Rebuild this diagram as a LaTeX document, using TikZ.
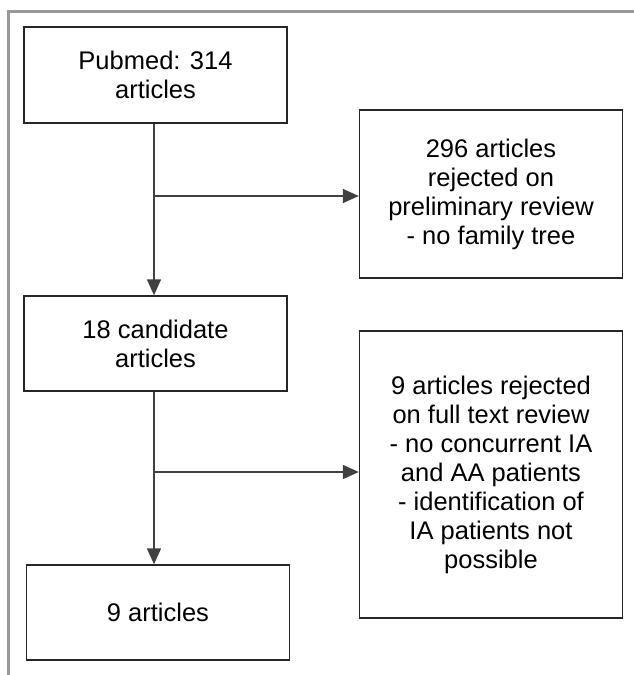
\documentclass[tikz,border=0pt]{standalone}
\usepackage{fontspec}
\setmainfont{Liberation Sans}
\usepackage{tikz}
\usetikzlibrary{arrows.meta}
\usetikzlibrary{shapes, arrows, positioning}

\begin{document}
\begin{tikzpicture}[x=1pt, y=1pt,
    stepbox/.style={rectangle, draw=black!85, line width=1.4pt, align=center, inner sep=0pt, minimum width=263pt,
      font=\fontsize{25.5}{29}\selectfont},
    flow/.style={-{Triangle[length=16pt, width=14pt]}, line width=1.4pt, draw=black!75}]
    % Frame and page size
    \useasboundingbox (0,0) rectangle (634,-675);
    \draw[gray!80, line width=3pt] (8.5,-675) -- (8.5,-11) -- (634,-11);

    % Define nodes
    \node[stepbox, minimum height=96pt] (pubmed) at (155.5,-75) {Pubmed: 314\\articles};
    \node[stepbox, minimum height=168pt] (prelim) at (491,-194) {296 articles\\rejected on\\preliminary review\\- no family tree};
    \node[stepbox, minimum height=95pt] (cand) at (155.5,-343.5) {18 candidate\\articles};
    \node[stepbox, minimum height=287pt] (fulltext) at (491,-474.5) {9 articles rejected\\on full text review\\- no concurrent IA\\and AA patients\\- identification of\\IA patients not\\possible};
    \node[stepbox, minimum height=95pt] (final) at (158,-612.5) {9 articles};

    % Branch points
    \coordinate (split1) at (154,-196);
    \coordinate (split2) at (154,-472);

    % Connect nodes with arrows
    \draw[flow] (pubmed.south -| split1) -- (cand.north -| split1);
    \draw[flow] (cand.south -| split2) -- (final.north -| split2);
    \draw[flow] (split1) -- (split1 -| prelim.west);
    \draw[flow] (split2) -- (split2 -| fulltext.west);
\end{tikzpicture}
\end{document}
